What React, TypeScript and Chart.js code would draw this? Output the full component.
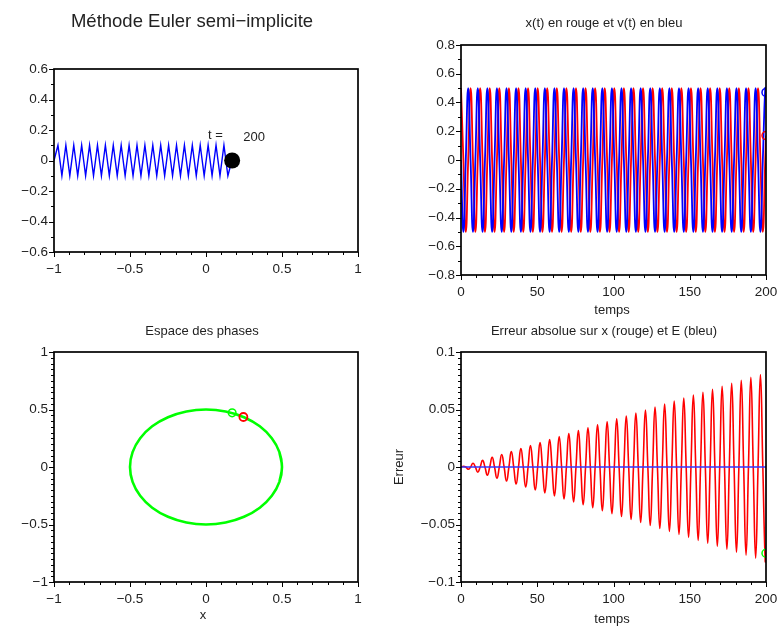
import React, { useEffect, useRef } from 'react';
import { Chart, registerables } from 'chart.js';

Chart.register(...registerables);

const FONT = '"Liberation Sans", Arial, Helvetica, sans-serif';
const TEXT_COLOR = '#222';
const TICK_FONT_SIZE = 13.5;

// ---------- Top-left: spring + mass ----------
const springX = [
  -1, -0.974, -0.948, -0.922, -0.896, -0.87, -0.844, -0.818, -0.792, -0.766,
  -0.74, -0.714, -0.688, -0.662, -0.636, -0.61, -0.584, -0.558, -0.532, -0.506,
  -0.48, -0.454, -0.428, -0.402, -0.376, -0.35, -0.324, -0.298, -0.272, -0.246,
  -0.22, -0.194, -0.168, -0.142, -0.116, -0.09, -0.064, -0.038, -0.012, 0.014,
  0.04, 0.066, 0.092, 0.118, 0.144, 0.17,
];
const springY = [
  0, 0.1, -0.1, 0.1, -0.1, 0.1, -0.1, 0.1, -0.1, 0.1,
  -0.1, 0.1, -0.1, 0.1, -0.1, 0.1, -0.1, 0.1, -0.1, 0.1,
  -0.1, 0.1, -0.1, 0.1, -0.1, 0.1, -0.1, 0.1, -0.1, 0.1,
  -0.1, 0.1, -0.1, 0.1, -0.1, 0.1, -0.1, 0.1, -0.1, 0.1,
  -0.1, 0.1, -0.1, 0.1, -0.1, 0,
];
const massX = [0.172];
const massY = [0];
const tFinal = 200;

// ---------- Time series (numeric x, v and error on x) ----------
const timeSamples = [
  0, 1.57, 3.14, 4.71, 6.28, 7.85, 9.42, 11.0, 12.57, 14.14, 15.71, 17.28, 18.85, 20.42, 21.99, 23.56,
  25.13, 26.7, 28.27, 29.85, 31.42, 32.99, 34.56, 36.13, 37.7, 39.27, 40.84, 42.41, 43.98, 45.55, 47.12, 48.69,
  50.27, 51.84, 53.41, 54.98, 56.55, 58.12, 59.69, 61.26, 62.83, 64.4, 65.97, 67.54, 69.12, 70.69, 72.26, 73.83,
  75.4, 76.97, 78.54, 80.11, 81.68, 83.25, 84.82, 86.39, 87.96, 89.54, 91.11, 92.68, 94.25, 95.82, 97.39, 98.96,
  100.53, 102.1, 103.67, 105.24, 106.81, 108.38, 109.96, 111.53, 113.1, 114.67, 116.24, 117.81, 119.38, 120.95, 122.52, 124.09,
  125.66, 127.23, 128.81, 130.38, 131.95, 133.52, 135.09, 136.66, 138.23, 139.8, 141.37, 142.94, 144.51, 146.08, 147.65, 149.23,
  150.8, 152.37, 153.94, 155.51, 157.08, 158.65, 160.22, 161.79, 163.36, 164.93, 166.5, 168.07, 169.65, 171.22, 172.79, 174.36,
  175.93, 177.5, 179.07, 180.64, 182.21, 183.78, 185.35, 186.92, 188.5, 190.07, 191.64, 193.21, 194.78, 196.35, 197.92, 199.49,
  200,
];
const xNumeric = [
  0.5, 0, -0.5, 0, 0.5, 0, -0.5, 0, 0.5, 0, -0.5, 0, 0.5, 0, -0.5, 0,
  0.5, 0, -0.5, 0, 0.5, 0, -0.5, 0, 0.5, 0, -0.5, 0, 0.5, 0, -0.5, 0,
  0.5, 0, -0.5, 0, 0.5, 0, -0.5, 0, 0.5, 0, -0.5, 0, 0.5, 0, -0.5, 0,
  0.5, 0, -0.5, 0, 0.5, 0, -0.5, 0, 0.5, 0, -0.5, 0, 0.5, 0, -0.5, 0,
  0.5, 0, -0.5, 0, 0.5, 0, -0.5, 0, 0.5, 0, -0.5, 0, 0.5, 0, -0.5, 0,
  0.5, 0, -0.5, 0, 0.5, 0, -0.5, 0, 0.5, 0, -0.5, 0, 0.5, 0, -0.5, 0,
  0.5, 0, -0.5, 0, 0.5, 0, -0.5, 0, 0.5, 0, -0.5, 0, 0.5, 0, -0.5, 0,
  0.5, 0, -0.5, 0, 0.5, 0, -0.5, 0, 0.5, 0, -0.5, 0, 0.5, 0, -0.5, 0,
  0.17,
];
const vNumeric = [
  0, -0.5, 0, 0.5, 0, -0.5, 0, 0.5, 0, -0.5, 0, 0.5, 0, -0.5, 0, 0.5,
  0, -0.5, 0, 0.5, 0, -0.5, 0, 0.5, 0, -0.5, 0, 0.5, 0, -0.5, 0, 0.5,
  0, -0.5, 0, 0.5, 0, -0.5, 0, 0.5, 0, -0.5, 0, 0.5, 0, -0.5, 0, 0.5,
  0, -0.5, 0, 0.5, 0, -0.5, 0, 0.5, 0, -0.5, 0, 0.5, 0, -0.5, 0, 0.5,
  0, -0.5, 0, 0.5, 0, -0.5, 0, 0.5, 0, -0.5, 0, 0.5, 0, -0.5, 0, 0.5,
  0, -0.5, 0, 0.5, 0, -0.5, 0, 0.5, 0, -0.5, 0, 0.5, 0, -0.5, 0, 0.5,
  0, -0.5, 0, 0.5, 0, -0.5, 0, 0.5, 0, -0.5, 0, 0.5, 0, -0.5, 0, 0.5,
  0, -0.5, 0, 0.5, 0, -0.5, 0, 0.5, 0, -0.5, 0, 0.5, 0, -0.5, 0, 0.5,
  0.47,
];
const errX = [
  0, 0.0006, 0, -0.0019, 0, 0.0032, 0, -0.0045, 0, 0.0058, 0, -0.0071, 0, 0.0084, 0, -0.0097,
  0, 0.0109, 0, -0.0122, 0, 0.0135, 0, -0.0148, 0, 0.0161, 0, -0.0174, 0, 0.0187, 0, -0.02,
  0, 0.0213, 0, -0.0225, 0, 0.0238, 0, -0.0251, 0, 0.0264, 0, -0.0277, 0, 0.029, 0, -0.0303,
  0, 0.0316, 0, -0.0328, 0, 0.0341, 0, -0.0354, 0, 0.0367, 0, -0.038, 0, 0.0393, 0, -0.0406,
  0, 0.0419, 0, -0.0431, 0, 0.0444, 0, -0.0457, 0, 0.047, 0, -0.0483, 0, 0.0496, 0, -0.0509,
  0, 0.0522, 0, -0.0535, 0, 0.0547, 0, -0.056, 0, 0.0573, 0, -0.0586, 0, 0.0599, 0, -0.0612,
  0, 0.0625, 0, -0.0638, 0, 0.065, 0, -0.0663, 0, 0.0676, 0, -0.0689, 0, 0.0702, 0, -0.0715,
  0, 0.0728, 0, -0.0741, 0, 0.0753, 0, -0.0766, 0, 0.0779, 0, -0.0792, 0, 0.0805, 0, -0.0818,
  -0.074,
];
const errETime = [0, 200];
const errE = [0, 0];

// ---------- Phase space ----------
const phaseX = [
  0.483, 0.5, 0.483, 0.433, 0.354, 0.25, 0.129, 0, -0.129, -0.25, -0.354, -0.433, -0.483, -0.5,
  -0.483, -0.433, -0.354, -0.25, -0.129, 0, 0.129, 0.25, 0.354, 0.433, 0.483, 0.5, 0.483,
];
const phaseV = [
  -0.129, 0, 0.129, 0.25, 0.354, 0.433, 0.483, 0.5, 0.483, 0.433, 0.354, 0.25, 0.129, 0,
  -0.129, -0.25, -0.354, -0.433, -0.483, -0.5, -0.483, -0.433, -0.354, -0.25, -0.129, 0, 0.129,
];
const finalNumeric = { x: 0.172, v: 0.471 };
const finalExact = { x: 0.246, v: 0.435 };
const finalErr = -0.075;

// ---------- helpers ----------
const pts = (xs: number[], ys: number[]) => xs.map((x, i) => ({ x, y: ys[i] }));

const fmt = (v: number) => {
  const r = Math.round(v * 1e6) / 1e6;
  return String(r).replace('-', '\u2212');
};

function axis(horizontal: boolean, min: number, max: number, step: number, major: number) {
  return {
    type: 'linear',
    position: horizontal ? 'bottom' : 'left',
    min,
    max,
    border: { display: false },
    grid: {
      display: false,
      drawOnChartArea: false,
      drawTicks: true,
      tickLength: 5,
    },
    ticks: {
      stepSize: step,
      autoSkip: false,
      maxTicksLimit: 1000,
      maxRotation: 0,
      minRotation: 0,
      includeBounds: true,
      padding: horizontal ? 4 : 1,
      color: TEXT_COLOR,
      font: { family: FONT, size: TICK_FONT_SIZE },
      callback: (value: number) => {
        const q = value / major;
        return Math.abs(q - Math.round(q)) < 1e-6 ? fmt(value) : '';
      },
    },
    afterFit: (scale: any) => {
      if (horizontal) scale.height = 40;
      else scale.width = 50;
      scale.paddingLeft = 0;
      scale.paddingRight = 0;
      scale.paddingTop = 0;
      scale.paddingBottom = 0;
    },
  };
}

type TextItem = {
  text: string;
  x: number;
  y: number;
  size: number;
  align?: CanvasTextAlign;
  baseline?: CanvasTextBaseline;
  rotate?: number;
  data?: boolean;
};

// Frame round the plot area, and outward tick marks (long for labelled ticks, short otherwise)
const framePlugin = {
  id: 'frame',
  afterDatasetsDraw(chart: any) {
    const { left, top, right, bottom } = chart.chartArea;
    const ctx = chart.ctx;
    ctx.save();
    ctx.strokeStyle = '#000';
    ctx.lineWidth = 1;
    const xs = chart.scales.x;
    const ys = chart.scales.y;
    ctx.beginPath();
    for (const t of xs.ticks) {
      const p = Math.round(xs.getPixelForValue(t.value)) + 0.5;
      const len = t.label ? 5 : 3;
      ctx.moveTo(p, bottom);
      ctx.lineTo(p, bottom + len);
    }
    for (const t of ys.ticks) {
      const p = Math.round(ys.getPixelForValue(t.value)) + 0.5;
      const len = t.label ? 5 : 3;
      ctx.moveTo(left, p);
      ctx.lineTo(left - len, p);
    }
    ctx.stroke();
    ctx.lineWidth = 1.7;
    ctx.strokeRect(left, top, right - left, bottom - top);
    ctx.restore();
  },
};

const makeTextPlugin = (items: TextItem[]) => ({
  id: 'pageText',
  afterDraw(chart: any) {
    const ctx = chart.ctx;
    for (const it of items) {
      ctx.save();
      ctx.font = `${it.size}px ${FONT}`;
      ctx.fillStyle = TEXT_COLOR;
      ctx.textAlign = it.align || 'center';
      ctx.textBaseline = it.baseline || 'alphabetic';
      let x = it.x;
      let y = it.y;
      if (it.data) {
        x = chart.scales.x.getPixelForValue(it.x);
        y = chart.scales.y.getPixelForValue(it.y);
      }
      ctx.translate(x, y);
      if (it.rotate) ctx.rotate(it.rotate);
      ctx.fillText(it.text, 0, 0);
      ctx.restore();
    }
  },
});

const lineDs = (data: any[], color: string, width: number, extra: any = {}) => ({
  data,
  showLine: true,
  borderColor: color,
  backgroundColor: color,
  borderWidth: width,
  pointRadius: 0,
  fill: false,
  ...extra,
});

const markerDs = (data: any[], color: string, radius: number, filled: boolean, width = 1.5) => ({
  data,
  showLine: false,
  pointRadius: radius,
  pointBorderColor: color,
  pointBackgroundColor: filled ? color : 'rgba(0,0,0,0)',
  pointBorderWidth: width,
  clip: 0,
  order: -1,
});

function config(datasets: any[], xAxis: any, yAxis: any, padding: any, texts: TextItem[]) {
  return {
    type: 'scatter',
    data: { datasets },
    options: {
      responsive: false,
      maintainAspectRatio: false,
      animation: false,
      events: [],
      layout: { padding },
      plugins: {
        legend: { display: false },
        tooltip: { enabled: false },
        title: { display: false },
      },
      scales: { x: xAxis, y: yAxis },
    },
    plugins: [framePlugin, makeTextPlugin(texts)],
  };
}

const buildTopLeft = () =>
  config(
    [
      markerDs(pts(massX, massY), '#000', 8, true, 0),
      lineDs(pts(springX, springY), '#0000ff', 1.4, { order: 1 }),
    ],
    axis(true, -1, 1, 0.1, 0.5),
    axis(false, -0.6, 0.6, 0.1, 0.2),
    { left: 4, right: 419, top: 69, bottom: 334 },
    [
      { text: 'Méthode Euler semi\u2212implicite', x: 192, y: 27, size: 18.5 },
      { text: 't =', x: 0.013, y: 0.14, size: 13, align: 'left', data: true },
      { text: String(tFinal), x: 0.245, y: 0.13, size: 13, align: 'left', data: true },
    ]
  );

const buildTopRight = () =>
  config(
    [
      markerDs([{ x: tFinal, y: vNumeric[vNumeric.length - 1] }], '#0000ff', 4, false),
      markerDs([{ x: tFinal, y: xNumeric[xNumeric.length - 1] }], '#ff0000', 4, false),
      lineDs(pts(timeSamples, vNumeric), '#0000ff', 1.8, { tension: 0.5, order: 1 }),
      lineDs(pts(timeSamples, xNumeric), '#ff0000', 1.8, { tension: 0.5, order: 2 }),
    ],
    axis(true, 0, 200, 10, 50),
    axis(false, -0.8, 0.8, 0.1, 0.2),
    { left: 411, right: 11, top: 45, bottom: 311 },
    [
      { text: 'x(t) en rouge et v(t) en bleu', x: 604, y: 27, size: 13 },
      { text: 'temps', x: 612, y: 314, size: 13 },
    ]
  );

const buildBottomLeft = () =>
  config(
    [
      markerDs([{ x: finalNumeric.x, y: finalNumeric.v }], '#00ff00', 3.8, false),
      markerDs([{ x: finalExact.x, y: finalExact.v }], '#ff0000', 4, false, 1.8),
      lineDs(pts(phaseX, phaseV), '#00ff00', 2.6, { tension: 0.4, order: 1 }),
    ],
    axis(true, -1, 1, 0.1, 0.5),
    axis(false, -1, 1, 0.05, 0.5),
    { left: 4, right: 419, top: 352, bottom: 4 },
    [
      { text: 'Espace des phases', x: 202, y: 335, size: 13 },
      { text: 'x', x: 203, y: 619, size: 13 },
    ]
  );

const buildBottomRight = () =>
  config(
    [
      markerDs([{ x: tFinal, y: finalErr }], '#00ff00', 4, false),
      lineDs(pts(errETime, errE), '#3333ff', 1.3, { order: 1 }),
      lineDs(pts(timeSamples, errX), '#ff0000', 1.6, { tension: 0.5, order: 2 }),
    ],
    axis(true, 0, 200, 10, 50),
    axis(false, -0.1, 0.1, 0.005, 0.05),
    { left: 411, right: 11, top: 352, bottom: 4 },
    [
      { text: 'Erreur absolue sur x (rouge) et E (bleu)', x: 604, y: 335, size: 13 },
      { text: 'temps', x: 612, y: 623, size: 13 },
      { text: 'Erreur', x: 399, y: 467, size: 13, baseline: 'middle', rotate: -Math.PI / 2 },
    ]
  );

function ChartCanvas({ build }: { build: () => any }) {
  const ref = useRef<HTMLCanvasElement | null>(null);
  useEffect(() => {
    if (!ref.current) return;
    const chart = new Chart(ref.current, build() as any);
    return () => chart.destroy();
  }, [build]);
  return (
    <canvas
      ref={ref}
      width={777}
      height={626}
      style={{ position: 'absolute', left: 0, top: 0, width: 777, height: 626 }}
    />
  );
}

export default function App() {
  return (
    <div
      style={{
        position: 'absolute',
        left: 0,
        top: 0,
        width: 777,
        height: 626,
        background: '#fff',
        overflow: 'hidden',
      }}
    >
      <ChartCanvas build={buildTopLeft} />
      <ChartCanvas build={buildTopRight} />
      <ChartCanvas build={buildBottomLeft} />
      <ChartCanvas build={buildBottomRight} />
    </div>
  );
}
